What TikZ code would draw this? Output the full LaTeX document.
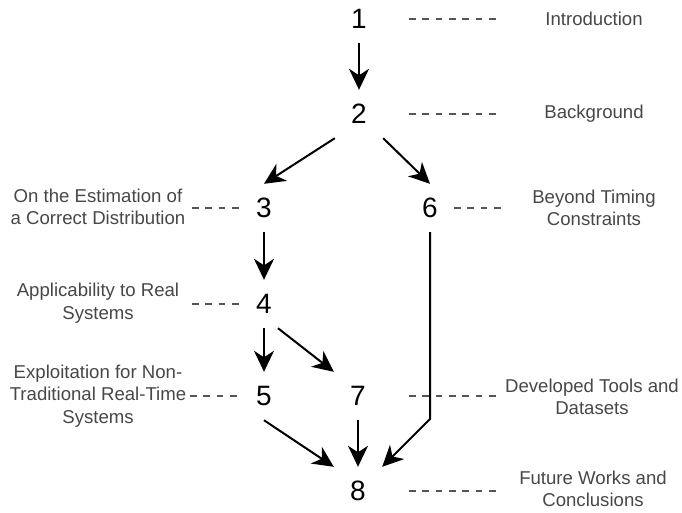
\documentclass[tikz,border=0pt]{standalone}
\usepackage{fontspec}
\setmainfont{Liberation Sans}
\usetikzlibrary{arrows.meta}
\definecolor{labelgray}{HTML}{474747}
\definecolor{leadergray}{HTML}{555555}
\begin{document}
\begin{tikzpicture}[x=1pt, y=-1pt,
  num/.style={font=\fontsize{28}{28}\selectfont, inner sep=0pt,
              minimum width=48pt, minimum height=48pt},
  lbl/.style={font=\fontsize{18.6}{22.5}\selectfont, text=labelgray,
              align=center, inner sep=0pt},
  flow/.style={line width=2pt, -{Stealth[length=21pt,width=20pt,inset=6.5pt]}},
  lead/.style={leadergray, line width=1.2pt, dash pattern=on 6.7pt off 6.6pt}]

  \useasboundingbox (0,0) rectangle (682,512);

  % chapter numbers
  \node[num] (n1) at (359,19)  {1};
  \node[num] (n2) at (359,114) {2};
  \node[num] (n3) at (264,208) {3};
  \node[num] (n6) at (430,208) {6};
  \node[num] (n4) at (264,304) {4};
  \node[num] (n5) at (264,396) {5};
  \node[num] (n7) at (358,396) {7};
  \node[num] (n8) at (358,491) {8};

  % chapter titles
  \node[lbl] (l1) at (594,19)  {Introduction};
  \node[lbl] (l2) at (594,114) {Background};
  \node[lbl] (l3) at (98,207)  {On the Estimation of\\a Correct Distribution};
  \node[lbl] (l6) at (594,208) {Beyond Timing\\Constraints};
  \node[lbl] (l4) at (98,303)  {Applicability to Real\\Systems};
  \node[lbl] (l5) at (98,396)  {Exploitation for Non-\\Traditional Real-Time\\Systems};
  \node[lbl] (l7) at (592,397) {Developed Tools and\\Datasets};
  \node[lbl] (l8) at (593,489) {Future Works and\\Conclusions};

  % dashed leaders from numbers towards titles
  \draw[lead] ([xshift=50pt]n1.center) -- ([xshift=142pt]n1.center);
  \draw[lead] ([xshift=50pt]n2.center) -- ([xshift=142pt]n2.center);
  \draw[lead] ([xshift=-72pt]n3.center) -- ([xshift=-22pt]n3.center);
  \draw[lead] ([xshift=24pt]n6.center) -- ([xshift=71pt]n6.center);
  \draw[lead] ([xshift=-72pt]n4.center) -- ([xshift=-22pt]n4.center);
  \draw[lead] ([xshift=-74pt]n5.center) -- ([xshift=-23pt]n5.center);
  \draw[lead] ([xshift=51pt]n7.center) -- ([xshift=143pt]n7.center);
  \draw[lead] ([xshift=51pt]n8.center) -- ([xshift=143pt]n8.center);

  % reading order
  \coordinate (bend) at (430,419);
  \draw[flow] (n1.south) -- (n2.north);
  \draw[flow] (n2.south west) -- (n3.north);
  \draw[flow] (n2.south east) -- (n6.north);
  \draw[flow] (n3.south) -- (n4.north);
  \draw[flow] (n4.south) -- (n5.north);
  \draw[flow] (n4.-60) -- (n7.north west);
  \draw[flow] (n5.south) -- (n8.north west);
  \draw[flow] (n7.south) -- (n8.north);
  \draw[flow] (n6.south) -- (bend) -- (n8.north east);
\end{tikzpicture}
\end{document}
